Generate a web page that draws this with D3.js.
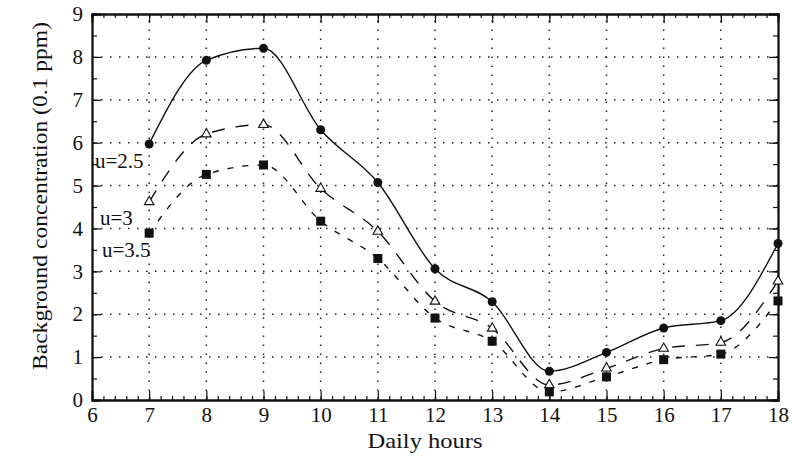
<!DOCTYPE html>
<html><head><meta charset="utf-8">
<script src="https://cdn.jsdelivr.net/npm/d3@7/dist/d3.min.js"></script>
<style>body{margin:0;background:#fff}svg{display:block}text{font-family:"Liberation Serif","DejaVu Serif",serif;fill:#111}</style>
</head><body><svg id="c" width="792" height="456"></svg>
<script>
const hours = [7,8,9,10,11,12,13,14,15,16,17,18];
const u25 = [5.97,7.92,8.2,6.3,5.07,3.06,2.29,0.67,1.11,1.68,1.85,3.65];
const u3  = [4.62,6.2,6.42,4.93,3.93,2.3,1.67,0.35,0.74,1.2,1.34,2.77];
const u35 = [3.89,5.26,5.48,4.17,3.3,1.91,1.37,0.19,0.54,0.94,1.07,2.31];
const xTicks = [6,7,8,9,10,11,12,13,14,15,16,17,18];
const yTicks = [0,1,2,3,4,5,6,7,8,9];
const seriesLabels = ["u=2.5","u=3","u=3.5"];

const svg = d3.select("#c");
const L=92,R=778,T=14,B=400;
const x = d3.scaleLinear().domain([6,18]).range([L,R]);
const y = d3.scaleLinear().domain([0,9]).range([B,T]);

// grid
const g = svg.append("g");
g.selectAll(".gx").data(xTicks.slice(1,-1)).join("line")
 .attr("x1",d=>x(d)).attr("x2",d=>x(d)).attr("y1",B).attr("y2",T)
 .attr("stroke","#222").attr("stroke-width",1.5).attr("stroke-dasharray","1.5,7.5");
g.selectAll(".gy").data(yTicks.slice(1,-1)).join("line")
 .attr("y1",d=>y(d)).attr("y2",d=>y(d)).attr("x1",L).attr("x2",R)
 .attr("stroke","#222").attr("stroke-width",1.5).attr("stroke-dasharray","1.5,7.5");

// axes
const minorX = d3.range(6,18.001,0.2);
const minorY = d3.range(0,9.001,0.5);
svg.append("g").attr("transform",`translate(0,${B})`)
 .call(d3.axisBottom(x).tickValues(xTicks).tickSize(-9).tickPadding(7).tickFormat(d3.format("d")));
svg.append("g").attr("transform",`translate(0,${B})`)
 .call(d3.axisBottom(x).tickValues(minorX).tickSize(-4).tickFormat(""));
svg.append("g").attr("transform",`translate(${L},0)`)
 .call(d3.axisLeft(y).tickValues(yTicks).tickSize(-9).tickPadding(9).tickFormat(d3.format("d")));
svg.append("g").attr("transform",`translate(${L},0)`)
 .call(d3.axisLeft(y).tickValues(minorY).tickSize(-5).tickFormat(""));
svg.append("g").attr("transform",`translate(0,${T})`)
 .call(d3.axisTop(x).tickValues(xTicks).tickSize(-9).tickFormat(""));
svg.append("g").attr("transform",`translate(0,${T})`)
 .call(d3.axisTop(x).tickValues(minorX).tickSize(-4).tickFormat(""));
svg.append("g").attr("transform",`translate(${R},0)`)
 .call(d3.axisRight(y).tickValues(yTicks).tickSize(-9).tickFormat(""));
svg.append("g").attr("transform",`translate(${R},0)`)
 .call(d3.axisRight(y).tickValues(minorY).tickSize(-5).tickFormat(""));
svg.selectAll(".domain").attr("stroke","#111").attr("stroke-width",1.8);
svg.selectAll(".tick line").attr("stroke","#111").attr("stroke-width",1.2);
svg.selectAll(".tick text").attr("font-size",21).attr("font-family","Liberation Serif").attr("fill","#111");

// lines
const line = d3.line().x((d,i)=>x(hours[i])).y(d=>y(d)).curve(d3.curveMonotoneX);
svg.append("path").attr("d",line(u25)).attr("fill","none").attr("stroke","#111").attr("stroke-width",1.4);
svg.append("path").attr("d",line(u3)).attr("fill","none").attr("stroke","#111").attr("stroke-width",1.4).attr("stroke-dasharray","13,11");
svg.append("path").attr("d",line(u35)).attr("fill","none").attr("stroke","#111").attr("stroke-width",1.4).attr("stroke-dasharray","6,9");

// markers
svg.selectAll(".c").data(u25).join("circle")
 .attr("cx",(d,i)=>x(hours[i])).attr("cy",d=>y(d)).attr("r",4.5).attr("fill","#111");
svg.selectAll(".t").data(u3).join("path")
 .attr("transform",(d,i)=>`translate(${x(hours[i])},${y(d)})`)
 .attr("d",d3.symbol(d3.symbolTriangle,40)()).attr("fill","#fff").attr("stroke","#111").attr("stroke-width",1.1);
svg.selectAll(".s").data(u35).join("rect")
 .attr("x",(d,i)=>x(hours[i])-4.5).attr("y",d=>y(d)-4.5).attr("width",9).attr("height",9).attr("fill","#111");

// series labels
const lab = [[95,168],[100,225],[102,257]];
svg.selectAll(".lab").data(seriesLabels).join("text")
 .attr("x",(d,i)=>lab[i][0]).attr("y",(d,i)=>lab[i][1]).attr("font-size",21).text(d=>d);

// axis titles
svg.append("text").attr("x",425).attr("y",448).attr("text-anchor","middle").attr("font-size",22)
 .attr("textLength",115).attr("lengthAdjust","spacingAndGlyphs").text("Daily hours");
svg.append("text").attr("transform","translate(47,196) rotate(-90)").attr("text-anchor","middle").attr("font-size",22)
 .attr("textLength",348).attr("lengthAdjust","spacingAndGlyphs").text("Background concentration (0.1 ppm)");
</script></body></html>
